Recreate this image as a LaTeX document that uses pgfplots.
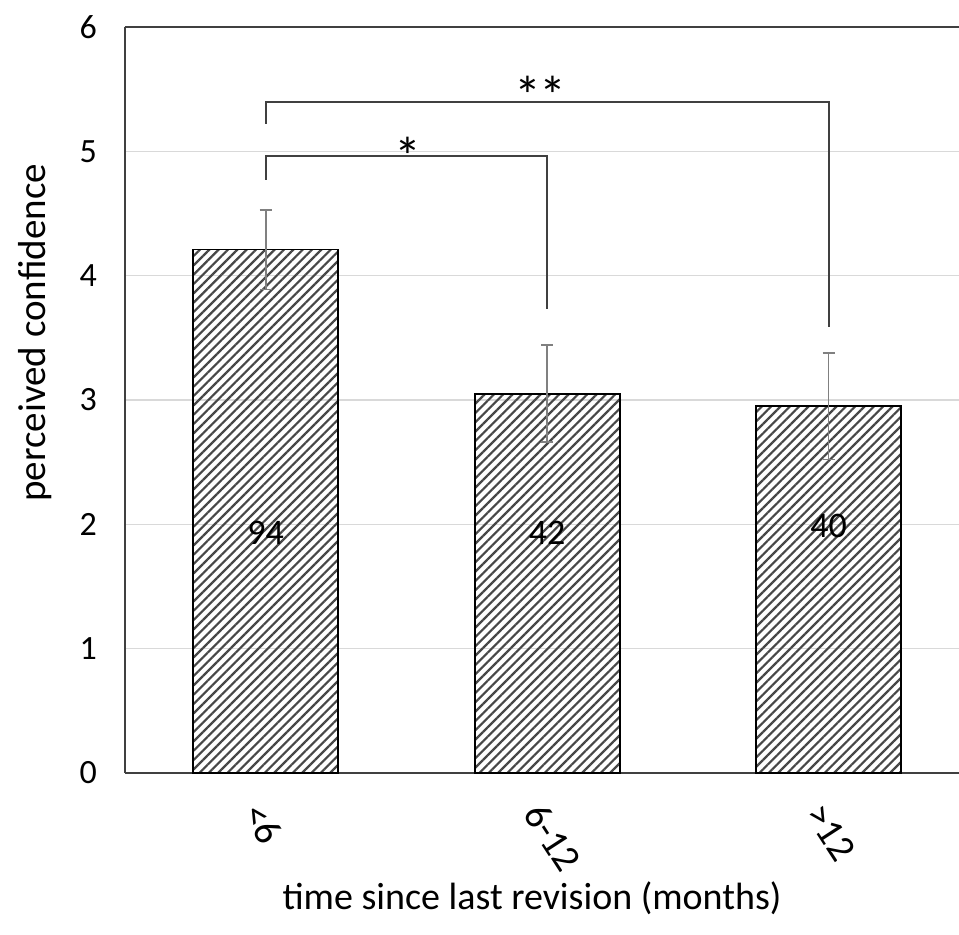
\documentclass[border=0pt]{standalone}
\usepackage{pgfplots}
\pgfplotsset{compat=1.18}
\usepackage{fontspec}
\setmainfont{Carlito}
\usetikzlibrary{patterns.meta}
\definecolor{axisgray}{HTML}{404040}
\definecolor{errgray}{HTML}{808080}
\definecolor{gridgray}{HTML}{D9D9D9}
\begin{document}
\begin{tikzpicture}
\begin{axis}[
  scale only axis,
  width=417pt, height=373pt,
  xmin=-0.5, xmax=2.463,
  ymin=0, ymax=6,
  ytick={0,1,2,3,4,5,6},
  xtick={0,1,2},
  xticklabels={{<6},{6-12},{>12}},
  axis x line=box,
  axis y line=left,
  y axis line style={-},
  axis line style={axisgray, line width=0.9pt},
  major tick length=0pt,
  ymajorgrids,
  major grid style={gridgray, line width=0.7pt},
  /pgf/number format/assume math mode=true,
  yticklabel style={font=\fontsize{17}{20}\selectfont, text=black, xshift=-10.5pt},
  xticklabel style={font=\fontsize{19.5}{22}\selectfont, text=black, inner sep=0pt, xshift=-7pt, yshift=-17pt, rotate=-57, anchor=west},
  ylabel={perceived confidence},
  xlabel={time since last revision (months)},
  every axis y label/.style={at={(axis description cs:0,0.59)}, xshift=-45pt, rotate=90, anchor=center, font=\fontsize{19.5}{23}\selectfont},
  every axis x label/.style={at={(axis description cs:0.488,0)}, yshift=-62.5pt, anchor=center, font=\fontsize{19}{23}\selectfont},
  clip=false,
]
\addplot[ybar, bar width=0.515, draw=black, line width=0.9pt,
  pattern={Lines[angle=45, distance=3.3pt, line width=1.1pt]}, pattern color=black!72,
  error bars/.cd, y dir=both, y explicit,
  error bar style={errgray, line width=0.8pt},
  error mark options={errgray, line width=0.8pt, mark size=3pt, rotate=90}]
  coordinates {
  (0,4.21) +- (0,0.32)
  (1,3.05) +- (0,0.39)
  (2,2.95) +- (0,0.43)
};
% significance brackets
\addplot[axisgray, line width=1pt, mark=none] coordinates {(0,4.77) (0,4.96) (1,4.96) (1,3.73)};
\addplot[axisgray, line width=1pt, mark=none] coordinates {(0,5.22) (0,5.40) (2,5.40) (2,3.59)};
\node[anchor=north, inner sep=0pt, font=\fontsize{27}{30}\selectfont] at (axis cs:0.504,5.12) {*};
\node[anchor=north, inner sep=0pt, font=\fontsize{27}{30}\selectfont] at (axis cs:0.977,5.61) {*\hspace{-1pt}*};
% counts
\node[inner sep=0pt, font=\fontsize{18}{21}\selectfont] at (axis cs:0,1.93) {94};
\node[inner sep=0pt, font=\fontsize{18}{21}\selectfont] at (axis cs:1,1.93) {42};
\node[inner sep=0pt, font=\fontsize{18}{21}\selectfont] at (axis cs:2,1.99) {40};
\end{axis}
\pgfresetboundingbox
\path[use as bounding box] ([xshift=-62.5pt,yshift=-81pt]current axis.south west) rectangle ([yshift=13.5pt]current axis.north east);
\end{tikzpicture}
\end{document}
